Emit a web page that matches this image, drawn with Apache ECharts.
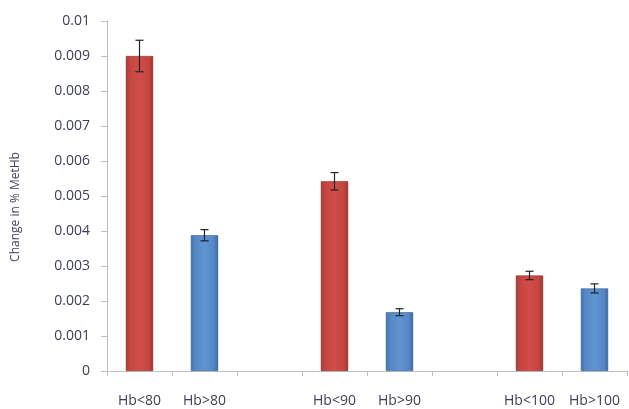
<!DOCTYPE html>
<html><head><meta charset="utf-8">
<script src="https://cdn.jsdelivr.net/npm/echarts@6/dist/echarts.min.js"></script>
<style>html,body{margin:0;padding:0;background:#fff}#c{width:629px;height:409px}</style>
</head><body><div id="c"></div>
<script>
const categories = ['Hb<80','Hb>80','','Hb<90','Hb>90','','Hb<100','Hb>100'];
const values = [0.0090, 0.00388, null, 0.00542, 0.00168, null, 0.00273, 0.00236];
const errors = [0.00045, 0.00016, null, 0.00025, 0.0001, null, 0.00012, 0.00013];
const groups = ['red','blue',null,'red','blue',null,'red','blue'];
const yTicks = [0,0.001,0.002,0.003,0.004,0.005,0.006,0.007,0.008,0.009,0.01];

const redGrad = new echarts.graphic.LinearGradient(0,0,1,0,[
  {offset:0,color:'#a83835'},{offset:0.15,color:'#c4463f'},{offset:0.5,color:'#d24c48'},{offset:0.85,color:'#c4463f'},{offset:1,color:'#9a3230'}]);
const blueGrad = new echarts.graphic.LinearGradient(0,0,1,0,[
  {offset:0,color:'#3f6fa8'},{offset:0.15,color:'#5387c6'},{offset:0.5,color:'#5f93d2'},{offset:0.85,color:'#5387c6'},{offset:1,color:'#3a659b'}]);

const barData = values.map((v,i)=> v==null ? null : {value:v, itemStyle:{color: groups[i]==='red'?redGrad:blueGrad, borderColor: groups[i]==='red'?'#8e2e2c':'#3a6394', borderWidth:0.6}});
const errData = values.map((v,i)=> v==null ? null : [i, v - errors[i], v + errors[i]]);

const txt = '#3c3f58';
const chart = echarts.init(document.getElementById('c'));
chart.setOption({
  animation:false,
  grid:{left:107,right:2,top:21,bottom:38},
  xAxis:{type:'category',data:categories,
    axisLine:{lineStyle:{color:'#bfbfbf',width:1}},
    axisTick:{show:true,length:5,lineStyle:{color:'#bfbfbf'}},
    axisLabel:{margin:23,color:txt,fontFamily:'Open Sans',fontSize:14,interval:0}},
  yAxis:{type:'value',min:0,max:0.01,interval:0.001,
    name:'Change in % MetHb',nameLocation:'middle',nameGap:85,nameRotate:90,
    nameTextStyle:{color:txt,fontFamily:'Open Sans',fontSize:12,padding:[0,22,0,0]},
    axisLine:{show:true,lineStyle:{color:'#bfbfbf'}},
    axisTick:{show:true,length:6,lineStyle:{color:'#bfbfbf'}},
    splitLine:{show:false},
    axisLabel:{margin:17,color:txt,fontFamily:'Open Sans',fontSize:14,
      formatter:v=>{const t=yTicks.find(x=>Math.abs(x-v)<1e-9);return t===undefined?'':String(+t.toFixed(3));}}},
  series:[
    {type:'bar',data:barData,barWidth:'42%'},
    {type:'custom',data:errData.filter(d=>d),
      renderItem:function(params,api){
        const x=api.value(0);
        const lo=api.coord([x,api.value(1)]);
        const hi=api.coord([x,api.value(2)]);
        const w=4;
        const s={stroke:'#222',lineWidth:1.2};
        return {type:'group',children:[
          {type:'line',shape:{x1:lo[0],y1:lo[1],x2:hi[0],y2:hi[1]},style:s},
          {type:'line',shape:{x1:lo[0]-w,y1:lo[1],x2:lo[0]+w,y2:lo[1]},style:s},
          {type:'line',shape:{x1:hi[0]-w,y1:hi[1],x2:hi[0]+w,y2:hi[1]},style:s}
        ]};
      },z:5}
  ]
});
</script></body></html>
